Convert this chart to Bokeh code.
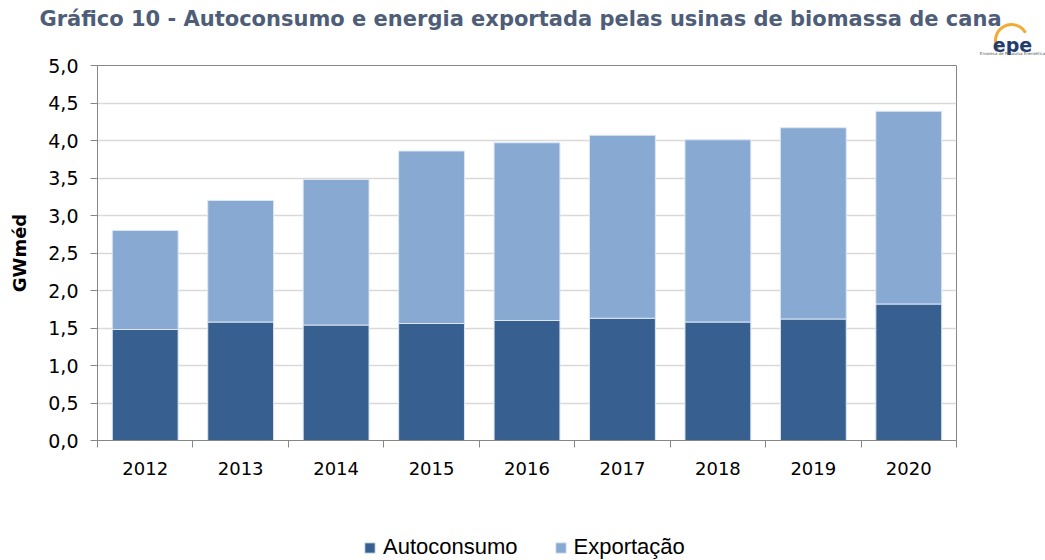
from bokeh.plotting import figure
from bokeh.models import (ColumnDataSource, FixedTicker, CustomJSTickFormatter, Range1d,
                          Legend, LegendItem, Label)
from bokeh.layouts import column
from bokeh.embed import file_html
from bokeh.resources import INLINE

# ---- data ----
years = ["2012", "2013", "2014", "2015", "2016", "2017", "2018", "2019", "2020"]
autoconsumo = [1.48, 1.58, 1.54, 1.56, 1.60, 1.63, 1.58, 1.62, 1.82]
exportacao = [1.32, 1.62, 1.94, 2.30, 2.37, 2.44, 2.43, 2.55, 2.57]
series_names = ["Autoconsumo", "Exportação"]
y_ticks = [0.0, 0.5, 1.0, 1.5, 2.0, 2.5, 3.0, 3.5, 4.0, 4.5, 5.0]
title_text = "Gráfico 10 - Autoconsumo e energia exportada pelas usinas de biomassa de cana"

DARK = "#376091"
LIGHT = "#88A9D2"
EDGE = "#DCE6F2"
AXIS = "#868686"
GRID = "#D9D9D9"

W = 1045
H_TOP, H_MAIN, H_LEG = 55, 479, 26

centers = [i + 0.5 for i in range(len(years))]
bounds = list(range(len(years) + 1))
source = ColumnDataSource(dict(x=centers, year=years, autoconsumo=autoconsumo, exportacao=exportacao))


def no_frame_align(fig):
    if hasattr(fig, "frame_align"):
        fig.frame_align = False


# ---------------- header (title + logo) ----------------
top = figure(width=W, height=H_TOP, output_backend="svg", toolbar_location=None,
             x_range=Range1d(0, W), y_range=Range1d(0, H_TOP),
             min_border=0, x_axis_type=None, y_axis_type=None)
top.outline_line_color = None
top.grid.grid_line_color = None
no_frame_align(top)


def ty(page_y):
    return H_TOP - page_y


top.add_layout(Label(x=520, y=ty(18), text=title_text, text_font="DejaVu Sans",
                     text_font_style="bold", text_font_size="21px", text_color="#4E5D78",
                     text_align="center", text_baseline="alphabetic"))
top.arc(x=[1011], y=[ty(40)], radius=16, start_angle=0.5, end_angle=3.7,
        line_color="#F3A934", line_width=3)
top.add_layout(Label(x=1012, y=ty(44), text="epe", text_font="DejaVu Sans",
                     text_font_style="bold", text_font_size="19px", text_color="#233C6E",
                     text_align="center", text_baseline="alphabetic"))
top.add_layout(Label(x=1012, y=ty(53), text="Empresa de Pesquisa Energética", text_font="DejaVu Sans",
                     text_font_size="4px", text_color="#555555",
                     text_align="center", text_baseline="alphabetic"))

# ---------------- main chart ----------------
p = figure(width=W, height=H_MAIN, output_backend="svg", toolbar_location=None,
           x_range=Range1d(0, len(years)), y_range=Range1d(0, 5),
           min_border_left=97, min_border_right=W - 956, min_border_top=10,
           min_border_bottom=H_MAIN - (440 - H_TOP))
no_frame_align(p)

p.vbar_stack(["autoconsumo", "exportacao"], x="x", width=0.69, source=source,
             color=[DARK, LIGHT], line_color=EDGE, line_width=1)

p.outline_line_color = AXIS
p.outline_line_width = 1
p.xgrid.grid_line_color = None
p.ygrid.grid_line_color = GRID
p.ygrid.grid_line_width = 1.5
p.ygrid.ticker = FixedTicker(ticks=y_ticks)

p.yaxis.ticker = FixedTicker(ticks=y_ticks)
p.yaxis.formatter = CustomJSTickFormatter(code="return tick.toFixed(1).replace('.', ',');")
p.yaxis.axis_line_color = AXIS
p.yaxis.major_tick_line_color = AXIS
p.yaxis.major_tick_out = 7
p.yaxis.major_tick_in = 0
p.yaxis.minor_tick_line_color = None
p.yaxis.major_label_text_font = "DejaVu Sans"
p.yaxis.major_label_text_font_size = "19px"
p.yaxis.major_label_text_color = "#000000"
p.yaxis.major_label_standoff = 12
p.yaxis.axis_label = "GWméd"
p.yaxis.axis_label_text_font = "DejaVu Sans"
p.yaxis.axis_label_text_font_style = "bold"
p.yaxis.axis_label_text_font_size = "18px"
p.yaxis.axis_label_text_color = "#000000"
p.yaxis.axis_label_standoff = 15

p.xaxis.ticker = FixedTicker(ticks=centers, minor_ticks=bounds)
p.xaxis.formatter = CustomJSTickFormatter(args=dict(labels=years),
                                          code="return labels[Math.floor(tick)];")
p.xaxis.axis_line_color = AXIS
p.xaxis.major_tick_out = 0
p.xaxis.major_tick_in = 0
p.xaxis.major_tick_line_color = None
p.xaxis.minor_tick_line_color = AXIS
p.xaxis.minor_tick_out = 7
p.xaxis.minor_tick_in = 0
p.xaxis.major_label_text_font = "DejaVu Sans"
p.xaxis.major_label_text_font_size = "18px"
p.xaxis.major_label_text_color = "#000000"
p.xaxis.major_label_standoff = 14

# ---------------- legend strip ----------------
# the key glyphs come from the same stacked bars, kept outside this strip's visible x range
leg = figure(width=W, height=H_LEG, output_backend="svg", toolbar_location=None,
             x_range=Range1d(-2 * len(years), -len(years)), y_range=Range1d(0, 5),
             min_border=0, x_axis_type=None, y_axis_type=None)
leg.outline_line_color = None
leg.grid.grid_line_color = None
no_frame_align(leg)
key_renderers = leg.vbar_stack(["autoconsumo", "exportacao"], x="x", width=0.69, source=source,
                               color=[DARK, LIGHT], line_color=EDGE, line_width=1)
legend = Legend(items=[LegendItem(label=n, renderers=[r]) for n, r in zip(series_names, key_renderers)],
                orientation="horizontal", location=(363, 0),
                background_fill_alpha=0, border_line_alpha=0, padding=0, margin=0,
                spacing=36, label_standoff=7, glyph_width=13, glyph_height=13,
                label_text_font="Liberation Sans", label_text_font_size="22px",
                label_text_color="#000000")
leg.add_layout(legend)

open("out.html", "w").write(file_html(column(top, p, leg), INLINE))
